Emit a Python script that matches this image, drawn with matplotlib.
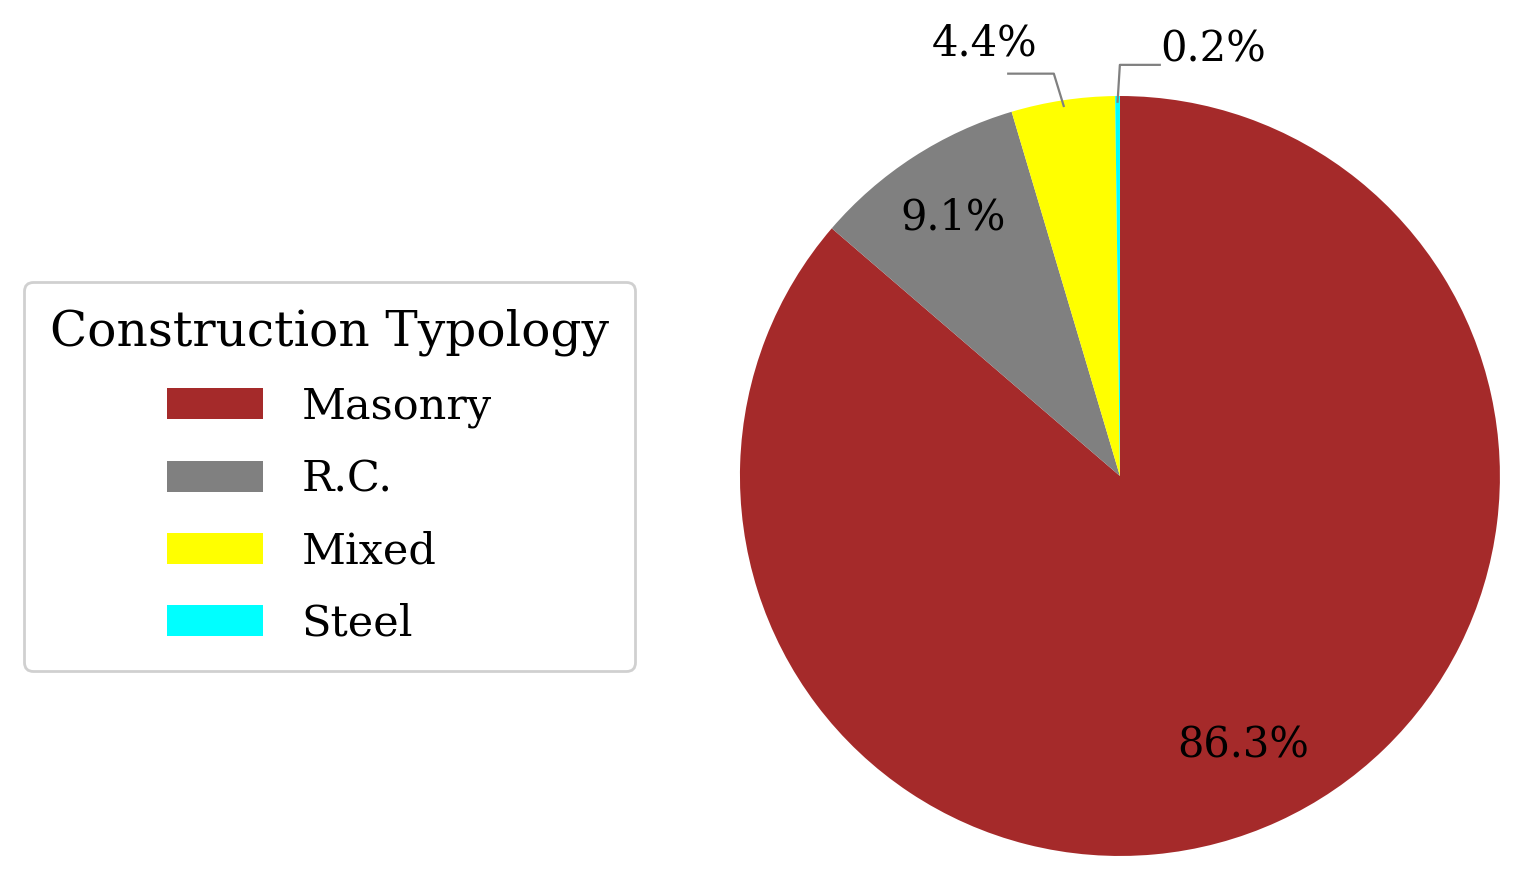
import numpy as np
import matplotlib.pyplot as plt

# donnees du camembert
categories = ["Masonry", "R.C.", "Mixed", "Steel"]
valeurs = [86.3, 9.1, 4.4, 0.2]
couleurs = ["#a52a2a", "#808080", "#ffff00", "#00ffff"]
etiquettes = ["86.3%", "9.1%", "4.4%", "0.2%"]

plt.rcParams['font.family'] = ['DejaVu Serif']

fig = plt.figure(figsize=(15.2, 8.8), dpi=100)
ax = fig.add_axes([0.4868, 0.0273, 0.5, 0.8636])

wedges, _ = ax.pie(valeurs, colors=couleurs, startangle=90, counterclock=False,
                   radius=1, wedgeprops=dict(linewidth=0))
ax.set_xlim(-1, 1)
ax.set_ylim(-1, 1)
ax.axis('off')

taille = 30

# etiquettes interieures pour les grosses parts
for w, txt, d in zip(wedges[:2], etiquettes[:2], [0.78, 0.81]):
    a = np.deg2rad((w.theta1 + w.theta2) / 2)
    ax.text(d * np.cos(a), d * np.sin(a), txt, ha='center', va='center', fontsize=taille)

# etiquettes exterieures avec lignes de rappel
decal = [(-0.026, 0.085, -0.12, -0.063, 0.08), (0.006, 0.097, 0.105, 0.0, 0.04)]
for w, txt, (dx, dy, dh, tx, ty) in zip(wedges[2:], etiquettes[2:], decal):
    a = np.deg2rad((w.theta1 + w.theta2) / 2)
    x0, y0 = np.cos(a) * 0.985, np.sin(a) * 0.985
    x1, y1 = x0 + dx, y0 + dy
    x2 = x1 + dh
    ax.plot([x0, x1, x2], [y0, y1, y1], color='#808080', lw=1.6, clip_on=False)
    ha = 'center' if dh < 0 else 'left'
    ax.text(x2 + tx, y1 + ty, txt, ha=ha, va='center', fontsize=taille)

leg = fig.legend(wedges, categories, title="Construction Typology",
                 loc='center left', bbox_to_anchor=(0.0158, 0.4585), borderaxespad=0,
                 fontsize=31, title_fontsize=35, handlelength=2.23, handleheight=0.74,
                 handletextpad=0.9, labelspacing=0.7, borderpad=0.6,
                 fancybox=True, edgecolor='#d0d0d0', framealpha=1)
leg.get_frame().set_linewidth(2)

plt.savefig("out.png", dpi=100)
